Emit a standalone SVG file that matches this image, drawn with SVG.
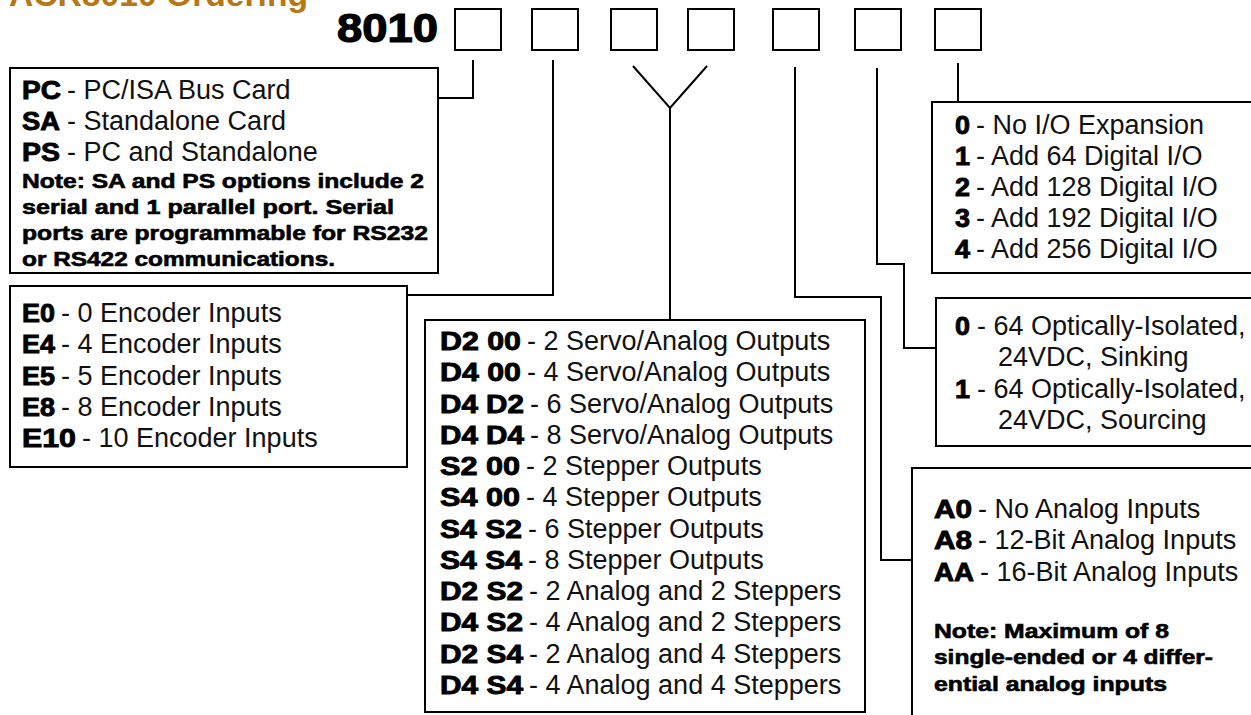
<svg xmlns="http://www.w3.org/2000/svg" width="1251" height="715" viewBox="0 0 1251 715">
<style>
.box{fill:#fff;stroke:#000;stroke-width:2}
.sq{fill:none;stroke:#000;stroke-width:2}
.ln{fill:none;stroke:#000;stroke-width:2}
.r{font-family:"Liberation Sans",Arial,sans-serif;font-size:27px;fill:#111}
.b{font-family:"Liberation Sans",Arial,sans-serif;font-size:26px;font-weight:bold;fill:#000;stroke:#000;stroke-width:0.9}
.n{font-family:"Liberation Sans",Arial,sans-serif;font-size:20px;font-weight:bold;fill:#000;stroke:#000;stroke-width:0.6}
</style>
<rect width="1251" height="715" fill="#fff"/>
<text x="9" y="5.5" font-family="Liberation Sans,Arial,sans-serif" font-size="33" font-weight="bold" fill="#b87716" textLength="299" lengthAdjust="spacingAndGlyphs">ACR8010 Ordering</text>
<g id="code">
<text x="337" y="42" font-family="Liberation Sans,Arial,sans-serif" font-size="40" font-weight="bold" stroke="#000" stroke-width="1.2" textLength="101" lengthAdjust="spacingAndGlyphs">8010</text>
<rect class="sq" x="455" y="9" width="46" height="41"/>
<rect class="sq" x="532" y="9" width="46" height="41"/>
<rect class="sq" x="611" y="9" width="46" height="41"/>
<rect class="sq" x="688" y="9" width="46" height="41"/>
<rect class="sq" x="773" y="9" width="46" height="41"/>
<rect class="sq" x="855" y="9" width="46" height="41"/>
<rect class="sq" x="935" y="9" width="46" height="41"/>
</g>
<g id="connectors">
<polyline class="ln" points="473,60 473,98 437,98"/>
<polyline class="ln" points="553,60 553,295 406,295"/>
<polyline class="ln" points="633,66 670,108 707,66"/>
<line class="ln" x1="670" y1="108" x2="670" y2="320"/>
<polyline class="ln" points="795,67 795,297 881,297 881,560 912,560"/>
<polyline class="ln" points="877,68 877,264 904,264 904,348 936,348"/>
<line class="ln" x1="958" y1="63" x2="958" y2="102"/>
</g>
<g id="bus">
<rect class="box" x="10" y="68" width="428" height="205"/>
<text class="b" x="22" y="99" textLength="39" lengthAdjust="spacingAndGlyphs">PC</text>
<text class="r" x="67" y="99">- PC/ISA Bus Card</text>
<text class="b" x="22" y="130" textLength="38" lengthAdjust="spacingAndGlyphs">SA</text>
<text class="r" x="67" y="130">- Standalone Card</text>
<text class="b" x="22" y="161" textLength="38" lengthAdjust="spacingAndGlyphs">PS</text>
<text class="r" x="67" y="161">- PC and Standalone</text>
<text class="n" x="22" y="188" textLength="402" lengthAdjust="spacingAndGlyphs">Note: SA and PS options include 2</text>
<text class="n" x="22" y="214" textLength="372" lengthAdjust="spacingAndGlyphs">serial and 1 parallel port. Serial</text>
<text class="n" x="22" y="240" textLength="406" lengthAdjust="spacingAndGlyphs">ports are programmable for RS232</text>
<text class="n" x="22" y="266" textLength="313" lengthAdjust="spacingAndGlyphs">or RS422 communications.</text>
</g>
<g id="encoders">
<rect class="box" x="10" y="286" width="397" height="181"/>
<text class="b" x="22" y="322" textLength="33" lengthAdjust="spacingAndGlyphs">E0</text>
<text class="r" x="61" y="322">- 0 Encoder Inputs</text>
<text class="b" x="22" y="353" textLength="33" lengthAdjust="spacingAndGlyphs">E4</text>
<text class="r" x="61" y="353">- 4 Encoder Inputs</text>
<text class="b" x="22" y="385" textLength="33" lengthAdjust="spacingAndGlyphs">E5</text>
<text class="r" x="61" y="385">- 5 Encoder Inputs</text>
<text class="b" x="22" y="416" textLength="33" lengthAdjust="spacingAndGlyphs">E8</text>
<text class="r" x="61" y="416">- 8 Encoder Inputs</text>
<text class="b" x="22" y="447" textLength="54" lengthAdjust="spacingAndGlyphs">E10</text>
<text class="r" x="82" y="447">- 10 Encoder Inputs</text>
</g>
<g id="outputs">
<rect class="box" x="425" y="320" width="440" height="392"/>
<text class="b" x="440" y="350" textLength="81" lengthAdjust="spacingAndGlyphs">D2 00</text>
<text class="r" x="527" y="350">- 2 Servo/Analog Outputs</text>
<text class="b" x="440" y="381" textLength="81" lengthAdjust="spacingAndGlyphs">D4 00</text>
<text class="r" x="527" y="381">- 4 Servo/Analog Outputs</text>
<text class="b" x="440" y="413" textLength="84" lengthAdjust="spacingAndGlyphs">D4 D2</text>
<text class="r" x="530" y="413">- 6 Servo/Analog Outputs</text>
<text class="b" x="440" y="444" textLength="84" lengthAdjust="spacingAndGlyphs">D4 D4</text>
<text class="r" x="530" y="444">- 8 Servo/Analog Outputs</text>
<text class="b" x="440" y="475" textLength="80" lengthAdjust="spacingAndGlyphs">S2 00</text>
<text class="r" x="526" y="475">- 2 Stepper Outputs</text>
<text class="b" x="440" y="506" textLength="80" lengthAdjust="spacingAndGlyphs">S4 00</text>
<text class="r" x="526" y="506">- 4 Stepper Outputs</text>
<text class="b" x="440" y="538" textLength="82" lengthAdjust="spacingAndGlyphs">S4 S2</text>
<text class="r" x="528" y="538">- 6 Stepper Outputs</text>
<text class="b" x="440" y="569" textLength="82" lengthAdjust="spacingAndGlyphs">S4 S4</text>
<text class="r" x="528" y="569">- 8 Stepper Outputs</text>
<text class="b" x="440" y="600" textLength="83" lengthAdjust="spacingAndGlyphs">D2 S2</text>
<text class="r" x="529" y="600">- 2 Analog and 2 Steppers</text>
<text class="b" x="440" y="631" textLength="83" lengthAdjust="spacingAndGlyphs">D4 S2</text>
<text class="r" x="529" y="631">- 4 Analog and 2 Steppers</text>
<text class="b" x="440" y="663" textLength="83" lengthAdjust="spacingAndGlyphs">D2 S4</text>
<text class="r" x="529" y="663">- 2 Analog and 4 Steppers</text>
<text class="b" x="440" y="694" textLength="83" lengthAdjust="spacingAndGlyphs">D4 S4</text>
<text class="r" x="529" y="694">- 4 Analog and 4 Steppers</text>
</g>
<g id="digital-io">
<rect class="box" x="932" y="102" width="330" height="171"/>
<text class="b" x="955" y="134" textLength="15" lengthAdjust="spacingAndGlyphs">0</text>
<text class="r" x="976" y="134">- No I/O Expansion</text>
<text class="b" x="955" y="165" textLength="15" lengthAdjust="spacingAndGlyphs">1</text>
<text class="r" x="976" y="165">- Add 64 Digital I/O</text>
<text class="b" x="955" y="196" textLength="15" lengthAdjust="spacingAndGlyphs">2</text>
<text class="r" x="976" y="196">- Add 128 Digital I/O</text>
<text class="b" x="955" y="227" textLength="15" lengthAdjust="spacingAndGlyphs">3</text>
<text class="r" x="976" y="227">- Add 192 Digital I/O</text>
<text class="b" x="955" y="258" textLength="15" lengthAdjust="spacingAndGlyphs">4</text>
<text class="r" x="976" y="258">- Add 256 Digital I/O</text>
</g>
<g id="opto">
<rect class="box" x="936" y="298" width="330" height="148"/>
<text class="b" x="955" y="335" textLength="15" lengthAdjust="spacingAndGlyphs">0</text>
<text class="r" x="977" y="335">- 64 Optically-Isolated,</text>
<text class="r" x="998" y="366">24VDC, Sinking</text>
<text class="b" x="955" y="398" textLength="15" lengthAdjust="spacingAndGlyphs">1</text>
<text class="r" x="977" y="398">- 64 Optically-Isolated,</text>
<text class="r" x="998" y="429">24VDC, Sourcing</text>
</g>
<g id="analog">
<rect class="box" x="912" y="468" width="350" height="260"/>
<text class="b" x="934" y="518" textLength="38" lengthAdjust="spacingAndGlyphs">A0</text>
<text class="r" x="978" y="518">- No Analog Inputs</text>
<text class="b" x="934" y="549" textLength="38" lengthAdjust="spacingAndGlyphs">A8</text>
<text class="r" x="978" y="549">- 12-Bit Analog Inputs</text>
<text class="b" x="934" y="581" textLength="40" lengthAdjust="spacingAndGlyphs">AA</text>
<text class="r" x="980" y="581">- 16-Bit Analog Inputs</text>
<text class="n" x="934" y="638" textLength="235" lengthAdjust="spacingAndGlyphs">Note: Maximum of 8</text>
<text class="n" x="934" y="664" textLength="279" lengthAdjust="spacingAndGlyphs">single-ended or 4 differ-</text>
<text class="n" x="934" y="691" textLength="233" lengthAdjust="spacingAndGlyphs">ential analog inputs</text>
</g>
</svg>
